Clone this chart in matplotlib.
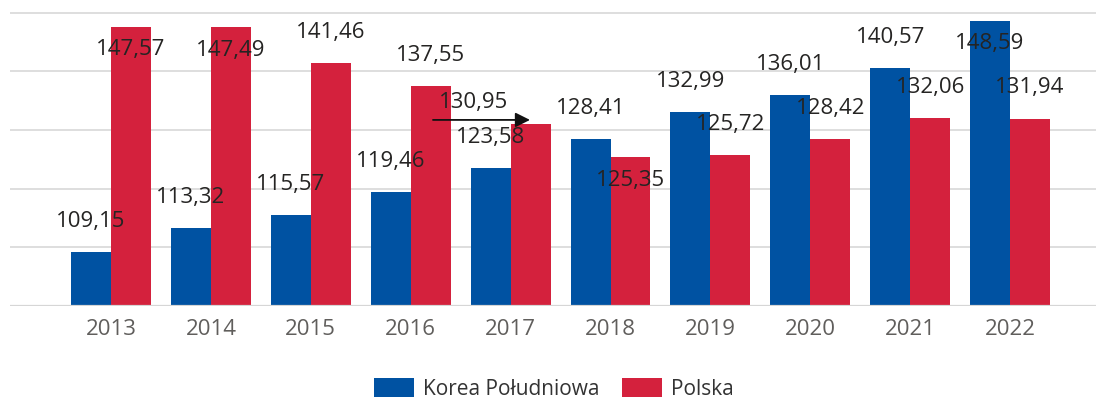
import matplotlib
matplotlib.use("Agg")
import matplotlib.pyplot as plt
from matplotlib.patches import Patch
import numpy as np

# ---- data ----
years = ["2013", "2014", "2015", "2016", "2017", "2018", "2019", "2020", "2021", "2022"]
korea = [109.15, 113.32, 115.57, 119.46, 123.58, 128.41, 132.99, 136.01, 140.57, 148.59]
polska = [147.57, 147.49, 141.46, 137.55, 130.95, 125.35, 125.72, 128.42, 132.06, 131.94]
series_names = ["Korea Południowa", "Polska"]

# label placement modes: 'out' above the bar, 'in' inside the top, 'moved' dragged with arrow
korea_lbl_mode = ["out"] * 9 + ["in"]
polska_lbl_mode = ["in", "in", "out", "out", "moved", "in", "out", "out", "out", "out"]

blue = "#0052A2"
red = "#D4213D"
txt = "#252423"
tick_col = "#605E5C"
grid_col = "#DEDEDE"

plt.rcParams["font.family"] = ["Open Sans", "DejaVu Sans"]

W, H = 1096, 401
fig = plt.figure(figsize=(W / 100, H / 100), dpi=100)

# axes placement in pixels
px_per_unit = 5.87
base_py = 306.0
ytop = 152.0
ax_left = 10 / W
ax_bottom = (H - base_py) / H
ax_height = (ytop - 100) * px_per_unit / H
ax = fig.add_axes([ax_left, ax_bottom, 1 - ax_left, ax_height])

x = np.arange(len(years))
w = 0.4
ax.bar(x - w / 2, korea, width=w, color=blue, zorder=3)
ax.bar(x + w / 2, polska, width=w, color=red, zorder=3)

step = 99.9
ax.set_xlim((10 - 111) / step, (W - 111) / step)
ax.set_ylim(100, ytop)
ax.set_yticks([100, 110, 120, 130, 140, 150])
ax.yaxis.grid(True, color=grid_col, linewidth=1.4, zorder=0)
ax.set_axisbelow(True)
for s in ax.spines.values():
    s.set_visible(False)
ax.tick_params(axis="y", left=False, labelleft=False)
ax.tick_params(axis="x", bottom=False, labelsize=16, labelcolor=tick_col, pad=6)
ax.set_xticks(x)
ax.set_xticklabels(years)
ax.axhline(100, color="#D6D6D6", linewidth=1.6, zorder=4)

fs = 16
off_out = 5.2
off_in = -3.9


def fmt(v):
    return f"{v:.2f}".replace(".", ",")


for i in range(len(years)):
    # Korea
    v = korea[i]
    yy = v + (off_out if korea_lbl_mode[i] == "out" else off_in)
    ax.text(x[i] - w / 2, yy, fmt(v), ha="center", va="center", fontsize=fs,
            color=txt, zorder=6, clip_on=False)
    # Polska
    v = polska[i]
    mode = polska_lbl_mode[i]
    if mode == "moved":
        ax.text(x[i] - 0.37, v + 3.7, fmt(v), ha="center", va="center", fontsize=fs,
                color=txt, zorder=6, clip_on=False)
        ax.annotate("", xy=(x[i] + 0.194, v + 0.75), xytext=(x[i] - 0.777, v + 0.75),
                    arrowprops=dict(arrowstyle="-|>", color="#111111", lw=1.3,
                                    mutation_scale=22, shrinkA=0, shrinkB=0),
                    zorder=7)
    else:
        yy = v + (off_out if mode == "out" else off_in)
        ax.text(x[i] + w / 2, yy, fmt(v), ha="center", va="center", fontsize=fs,
                color=txt, zorder=6, clip_on=False)

handles = [Patch(facecolor=blue, edgecolor="none"), Patch(facecolor=red, edgecolor="none")]
fig.legend(handles, series_names, loc="center", bbox_to_anchor=(554 / W, 1 - 389 / H),
           ncol=2, frameon=False, fontsize=15, handlelength=1.9, handleheight=1.0,
           handletextpad=0.45, columnspacing=1.1, labelcolor="#333333",
           borderpad=0.1)

fig.savefig("out.png", dpi=100)
